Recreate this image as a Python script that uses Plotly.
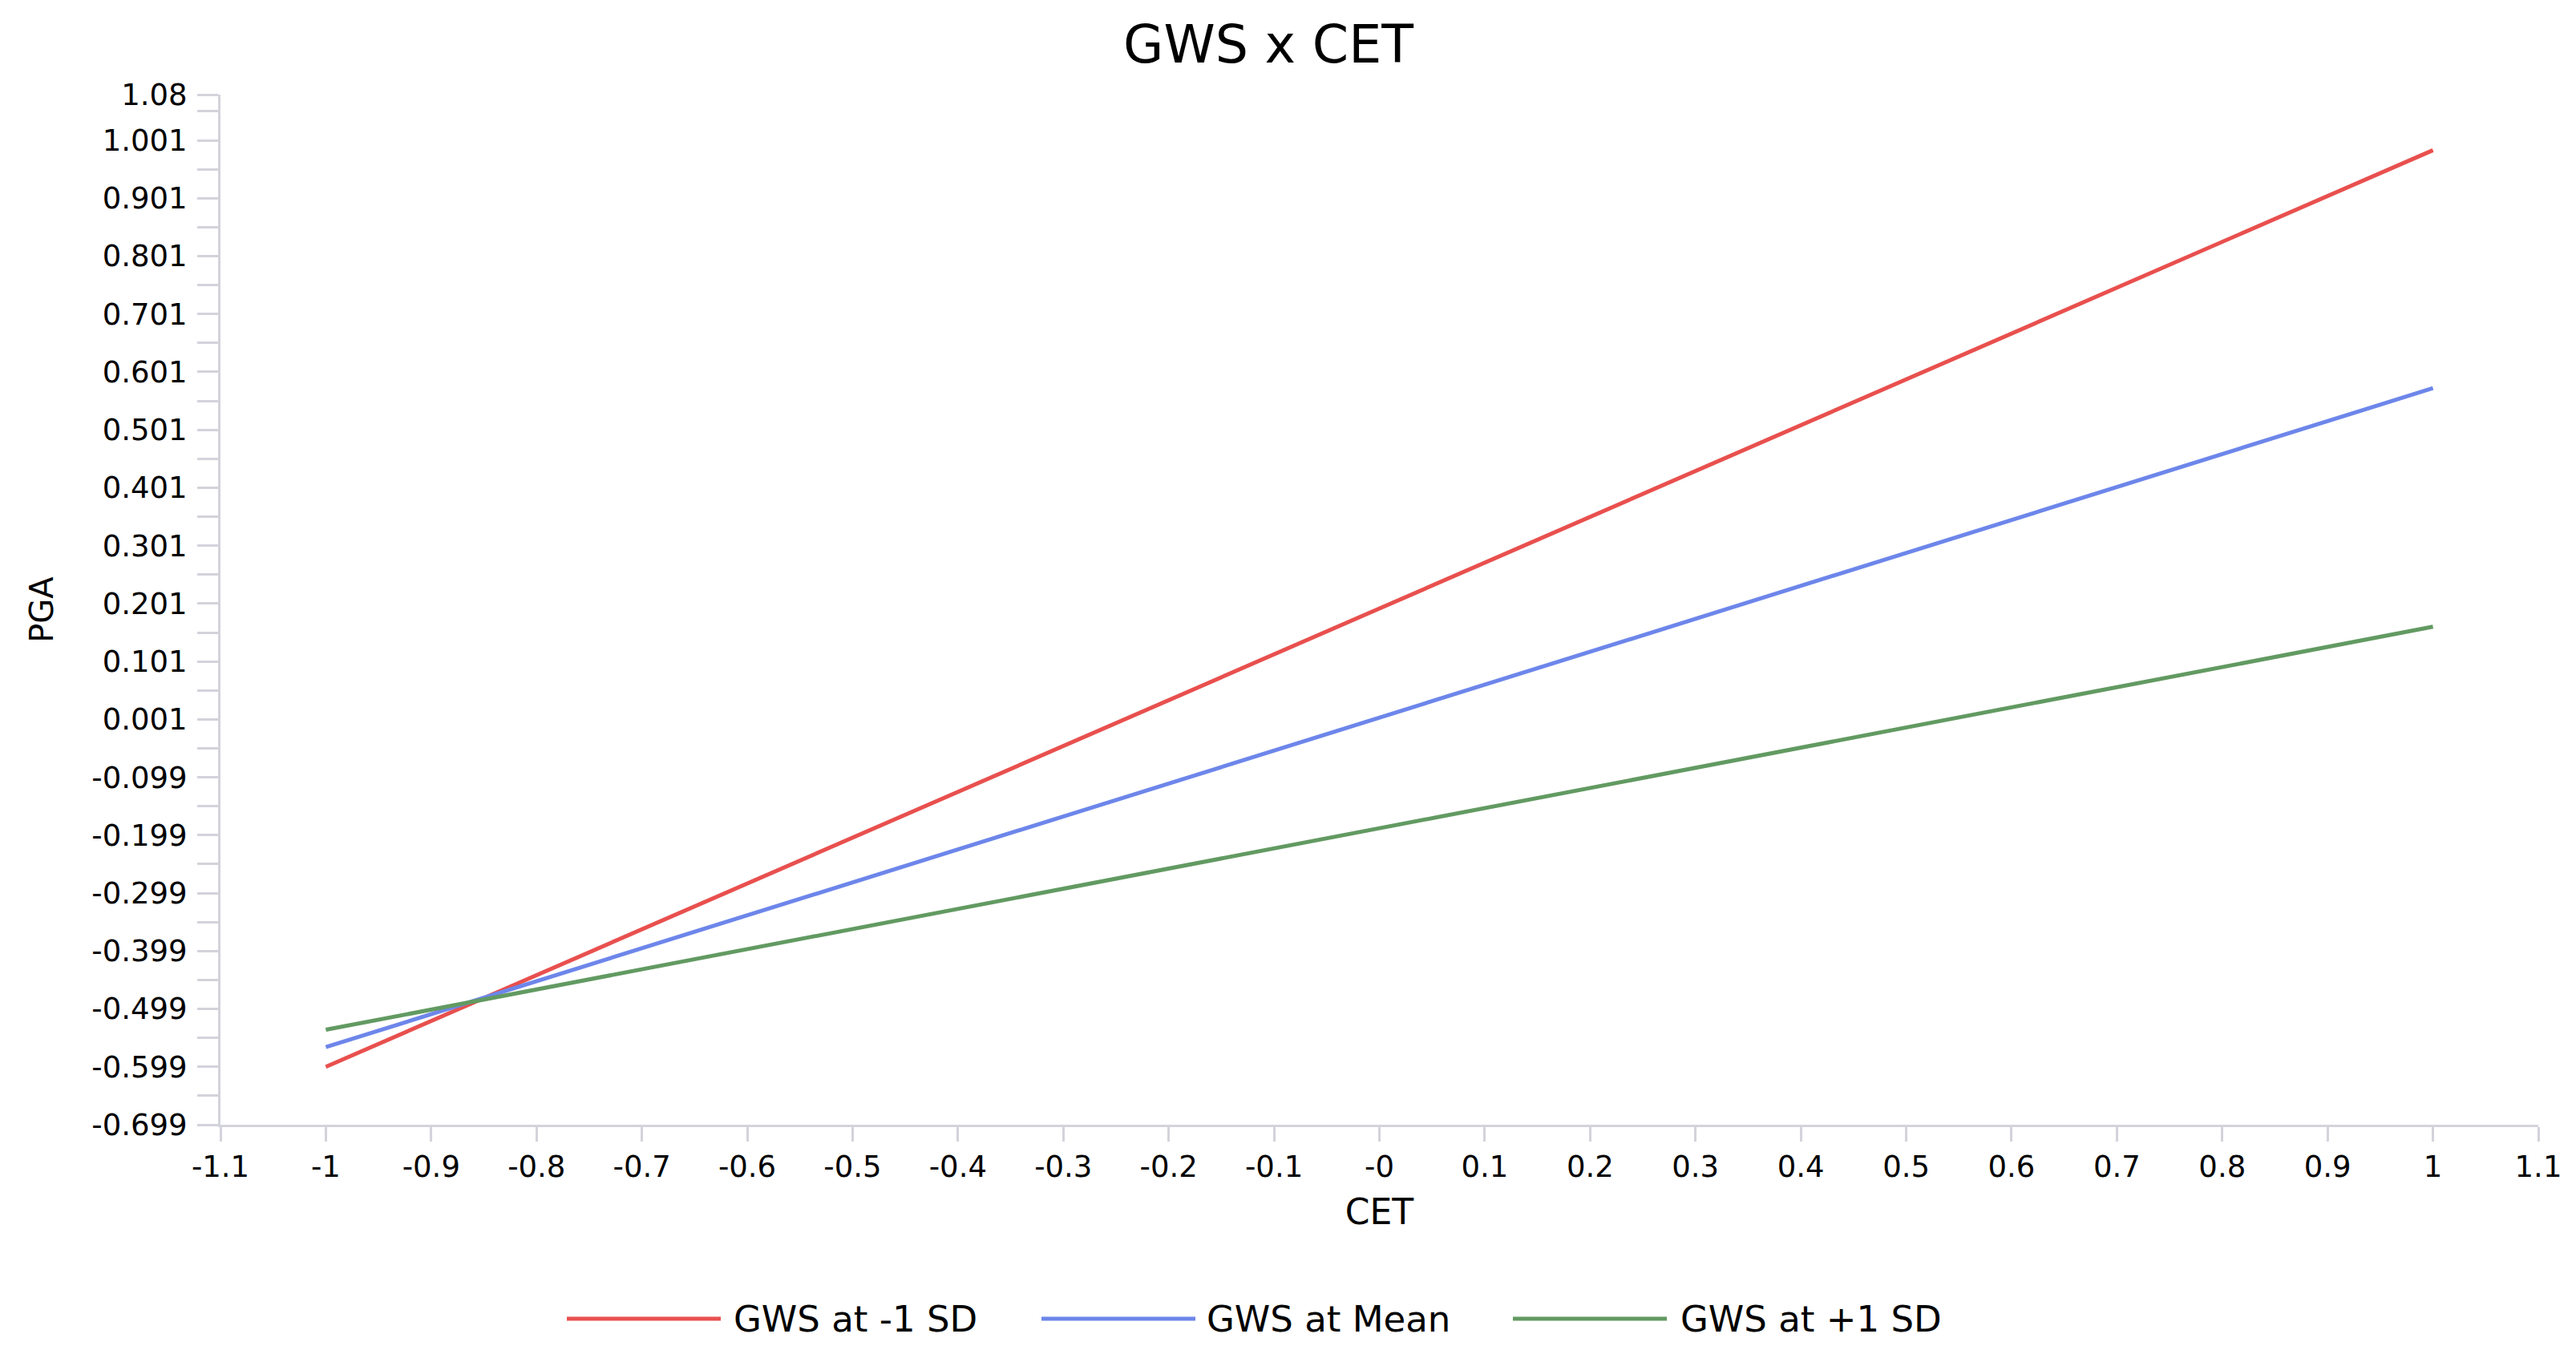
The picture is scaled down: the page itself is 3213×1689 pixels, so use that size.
from plotly import graph_objects as go

# CET values where the simple slopes were evaluated
cet = [-1, 1]

# PGA predicted at each GWS level
series_names = ["GWS at -1 SD", "GWS at Mean", "GWS at +1 SD"]
pga_low = [-0.599, 0.984]
pga_mean = [-0.565, 0.573]
pga_high = [-0.535, 0.161]
series_colors = ["#E8504E", "#6D86EA", "#629A62"]

# axis ticks
x_tick_vals = [-1.1, -1.0, -0.9, -0.8, -0.7, -0.6, -0.5, -0.4, -0.3, -0.2, -0.1,
               0.0, 0.1, 0.2, 0.3, 0.4, 0.5, 0.6, 0.7, 0.8, 0.9, 1.0, 1.1]
x_tick_text = ["-1.1", "-1", "-0.9", "-0.8", "-0.7", "-0.6", "-0.5", "-0.4", "-0.3", "-0.2", "-0.1",
               "-0", "0.1", "0.2", "0.3", "0.4", "0.5", "0.6", "0.7", "0.8", "0.9", "1", "1.1"]
y_tick_vals = [-0.699, -0.599, -0.499, -0.399, -0.299, -0.199, -0.099, 0.001, 0.101,
               0.201, 0.301, 0.401, 0.501, 0.601, 0.701, 0.801, 0.901, 1.001, 1.08]
y_tick_text = ["-0.699", "-0.599", "-0.499", "-0.399", "-0.299", "-0.199", "-0.099", "0.001", "0.101",
               "0.201", "0.301", "0.401", "0.501", "0.601", "0.701", "0.801", "0.901", "1.001", "1.08"]
y_minor_vals = [-0.649, -0.549, -0.449, -0.349, -0.249, -0.149, -0.049, 0.051, 0.151,
                0.251, 0.351, 0.451, 0.551, 0.651, 0.751, 0.851, 0.951, 1.051]

W, H = 3213, 1689
PAGE_PAD = 8  # default body margin of the page
ML, MR, MT, MB = 267, 55, 110, 294
FONT = "DejaVu Sans"
AXIS_GRAY = "#D3D3DB"
TEXT = "#000000"


def px_x(px):
    return (px - PAGE_PAD - ML) / (W - ML - MR)


def px_y(py):
    return (H - MB - (py - PAGE_PAD)) / (H - MT - MB)


fig = go.Figure()
for name, vals, col in zip(series_names, [pga_low, pga_mean, pga_high], series_colors):
    fig.add_trace(go.Scatter(x=cet, y=vals, mode="lines", name=name,
                             line=dict(color=col, width=5), showlegend=False))

# hand-drawn legend below the plot (long line samples like the original)
legend_line_x = [707, 1299, 1887]
legend_text_x = [913, 1503, 2094]
legend_y = 1645
for name, col, lx, tx in zip(series_names, series_colors, legend_line_x, legend_text_x):
    fig.add_shape(type="line", xref="paper", yref="paper",
                  x0=px_x(lx), x1=px_x(lx + 192), y0=px_y(legend_y), y1=px_y(legend_y),
                  line=dict(color=col, width=5))
    fig.add_annotation(text=name, xref="paper", yref="paper", x=px_x(tx), y=px_y(legend_y),
                       xanchor="left", yanchor="middle", showarrow=False,
                       font=dict(family=FONT, size=45, color=TEXT))

fig.update_layout(
    width=W, height=H,
    margin=dict(l=ML, r=MR, t=MT, b=MB),
    paper_bgcolor="white", plot_bgcolor="white",
    font=dict(family=FONT, color=TEXT),
    title=dict(text="GWS x CET", x=(1582 - PAGE_PAD) / W, xref="container", xanchor="center",
               y=1 - 47 / H, yref="container", yanchor="middle",
               font=dict(family=FONT, size=65, color=TEXT)),
    showlegend=False,
)
fig.update_xaxes(
    range=[-1.1, 1.1], tickmode="array", tickvals=x_tick_vals, ticktext=x_tick_text,
    showgrid=False, zeroline=False, showline=True, linecolor=AXIS_GRAY, linewidth=3,
    ticks="outside", ticklen=18, tickwidth=2.5, tickcolor=AXIS_GRAY,
    tickfont=dict(family=FONT, size=37, color=TEXT), ticklabelstandoff=0,
    title=dict(text="CET", font=dict(family=FONT, size=44, color=TEXT), standoff=20),
)
fig.update_yaxes(
    range=[-0.699, 1.08], tickmode="array", tickvals=y_tick_vals, ticktext=y_tick_text,
    showgrid=False, zeroline=False, showline=True, linecolor=AXIS_GRAY, linewidth=3,
    ticks="outside", ticklen=26, tickwidth=2.5, tickcolor=AXIS_GRAY,
    minor=dict(tickmode="array", tickvals=y_minor_vals, ticks="outside", ticklen=26,
               tickwidth=2.5, tickcolor=AXIS_GRAY, showgrid=False),
    tickfont=dict(family=FONT, size=37, color=TEXT), ticklabelstandoff=5,
    title=dict(text="PGA", font=dict(family=FONT, size=40, color=TEXT), standoff=36),
)

fig.write_html("out.html")
